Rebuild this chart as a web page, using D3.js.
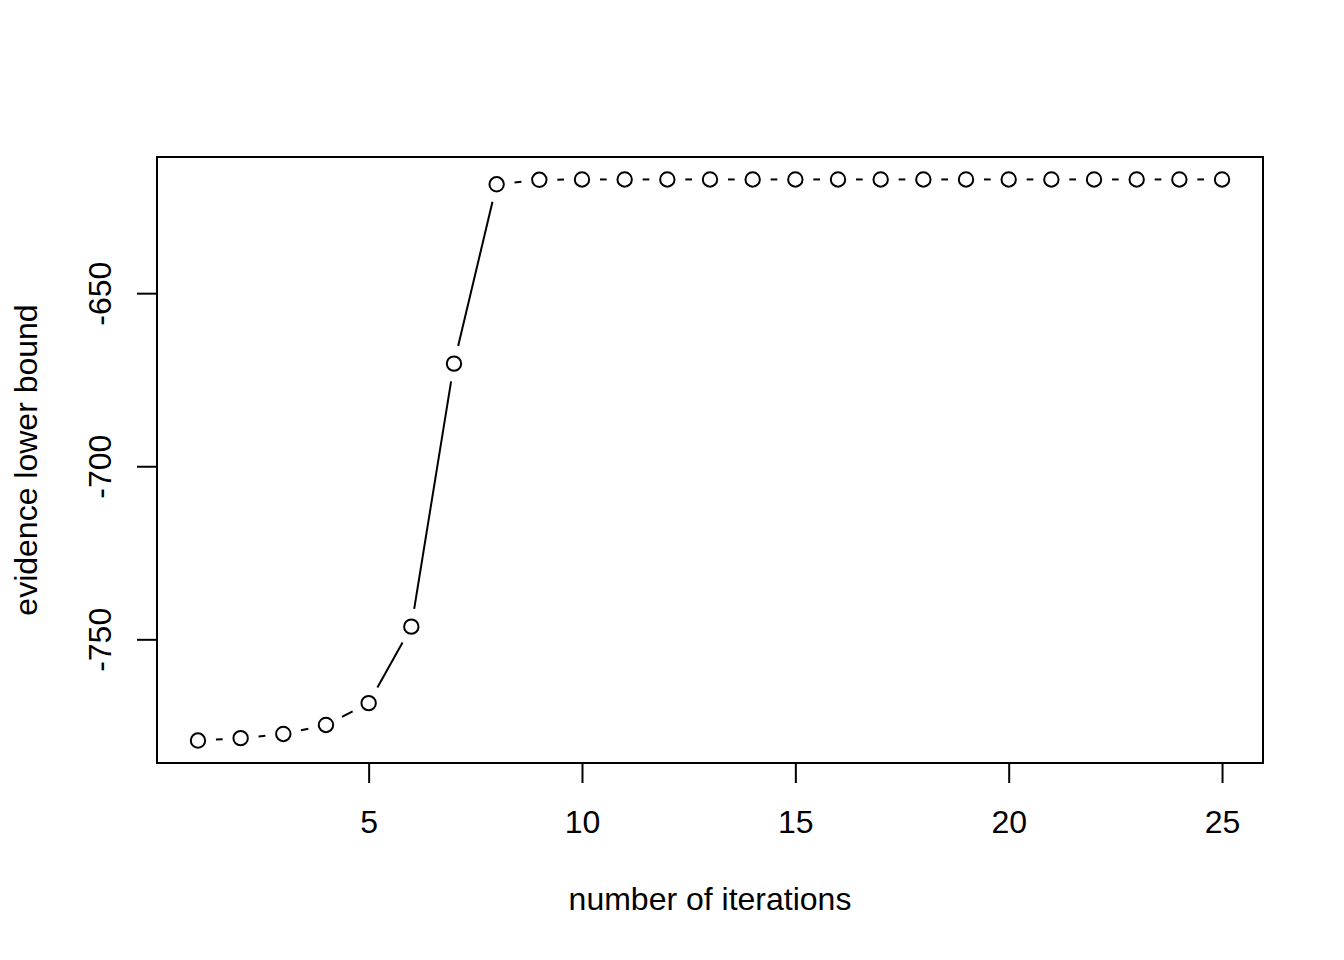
<!DOCTYPE html>
<html>
<head>
<meta charset="utf-8">
<script src="https://cdn.jsdelivr.net/npm/d3@7"></script>
<style>
  body { margin: 0; background: #fff; }
  svg text { font-family: "Liberation Sans", Arial, Helvetica, sans-serif; fill: #000; }
</style>
</head>
<body>
<svg id="chart" width="1344" height="960"></svg>
<script>
// values
const iterations = d3.range(1, 26);
const elbo = [-779.1, -778.4, -777.2, -774.6, -768.3, -746.2, -670.2, -618.4,
              -617.1, -617.0, -617.0, -617.0, -617.0, -617.0, -617.0, -617.0,
              -617.0, -617.0, -617.0, -617.0, -617.0, -617.0, -617.0, -617.0, -617.0];
const xTicks = [5, 10, 15, 20, 25];
const yTicks = [-650, -700, -750];
const xTitle = "number of iterations";
const yTitle = "evidence lower bound";

const svg = d3.select("#chart");
const box = {left: 157, right: 1263, top: 157, bottom: 763};

// R style 4% padding of the data range
let pad = (e) => { let d = (e[1]-e[0])*0.04; return [e[0]-d, e[1]+d]; };
const x = d3.scaleLinear().domain(pad(d3.extent(iterations))).range([box.left, box.right]);
const y = d3.scaleLinear().domain(pad(d3.extent(elbo))).range([box.bottom, box.top]);

const pts = iterations.map((it, i) => [x(it), y(elbo[i])]);

// type="b": segments with a gap round each point
const gap = 18;
let segs = [];
for (let i = 0; i < pts.length - 1; i++) {
    let [x0, y0] = pts[i], [x1, y1] = pts[i+1];
    let dx = x1 - x0, dy = y1 - y0, len = Math.hypot(dx, dy);
    if (len <= 2*gap) continue;
    let ux = dx/len, uy = dy/len;
    segs.push([x0+ux*gap, y0+uy*gap, x1-ux*gap, y1-uy*gap]);
}
svg.append("g").selectAll("line").data(segs).join("line")
    .attr("x1", d=>d[0]).attr("y1", d=>d[1]).attr("x2", d=>d[2]).attr("y2", d=>d[3])
    .attr("stroke", "#000").attr("stroke-width", 2);

svg.append("g").selectAll("circle").data(pts).join("circle")
    .attr("cx", d=>d[0]).attr("cy", d=>d[1]).attr("r", 7.2)
    .attr("fill", "none").attr("stroke", "#000").attr("stroke-width", 2);

// axes (plain hyphen minus like R)
const fmt = d => String(d);
const xAxis = d3.axisBottom(x).tickValues(xTicks).tickSize(20).tickPadding(26).tickFormat(fmt);
const gx = svg.append("g").attr("transform", `translate(0,${box.bottom})`).call(xAxis);
gx.select(".domain").remove();
gx.selectAll("line").attr("stroke-width", 2);
gx.selectAll("text").attr("font-size", 32).attr("font-family", null).attr("dy", "0.75em");

const yAxis = d3.axisLeft(y).tickValues(yTicks).tickSize(20).tickFormat(fmt);
const gy = svg.append("g").attr("transform", `translate(${box.left},0)`).call(yAxis);
gy.select(".domain").remove();
gy.selectAll("line").attr("stroke-width", 2);
gy.selectAll("text").attr("font-size", 32).attr("font-family", null)
    .attr("x", null).attr("dy", null).attr("text-anchor", "middle")
    .attr("transform", d => `translate(-46,${y(d)}) rotate(-90)`)
    .attr("y", 0);
gy.selectAll(".tick").attr("transform", null);
gy.selectAll(".tick line").attr("transform", d => `translate(0,${y(d)})`);

// plot box
svg.append("rect")
    .attr("x", box.left).attr("y", box.top)
    .attr("width", box.right - box.left).attr("height", box.bottom - box.top)
    .attr("fill", "none").attr("stroke", "#000").attr("stroke-width", 2);

// titles
svg.append("text").attr("x", (box.left+box.right)/2).attr("y", 910)
    .attr("text-anchor", "middle").attr("font-size", 32).text(xTitle);
svg.append("text").attr("transform", `translate(37,${(box.top+box.bottom)/2}) rotate(-90)`)
    .attr("text-anchor", "middle").attr("font-size", 32).text(yTitle);
</script>
</body>
</html>
